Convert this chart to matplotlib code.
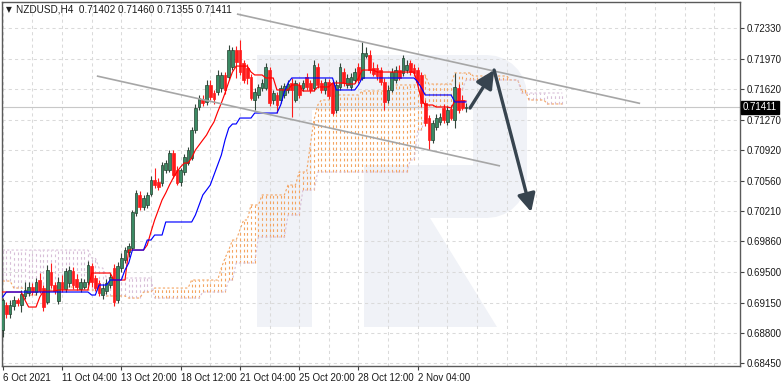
import matplotlib
matplotlib.use("Agg")
import matplotlib.pyplot as plt
import matplotlib.transforms as mtransforms
from matplotlib.patches import Polygon
import numpy as np

# ---------------- data ----------------
header_text = "NZDUSD,H4  0.71402 0.71460 0.71355 0.71411"
x_tick_bars = [0, 16, 32, 48, 64, 80, 96, 112]
x_tick_labels = ["6 Oct 2021", "11 Oct 04:00", "13 Oct 20:00", "18 Oct 12:00",
                 "21 Oct 04:00", "25 Oct 20:00", "28 Oct 12:00", "2 Nov 04:00"]
y_ticks = [0.68450, 0.68800, 0.69150, 0.69500, 0.69860, 0.70210,
           0.70560, 0.70920, 0.71270, 0.71620, 0.71970, 0.72330]
last_price = 0.71411

opens = [0.68832, 0.69121, 0.69018, 0.69110, 0.69179, 0.69121, 0.69226, 0.69260, 0.69330, 0.69272,
         0.69411, 0.69318, 0.69156, 0.69504, 0.69353, 0.69167, 0.69388, 0.69307, 0.69376, 0.69515,
         0.69423, 0.69307, 0.69330, 0.69388, 0.69573, 0.69434, 0.69376, 0.69237, 0.69283, 0.69353,
         0.69550, 0.69179, 0.69550, 0.69643, 0.69735, 0.69781, 0.70187, 0.70396, 0.70257, 0.70280,
         0.70407, 0.70569, 0.70546, 0.70534, 0.70685, 0.70685, 0.70882, 0.70685, 0.70546, 0.70662,
         0.70766, 0.70824, 0.71148, 0.71415, 0.71508, 0.71473, 0.71670, 0.71577, 0.71589, 0.71635,
         0.71786, 0.71762, 0.71878, 0.72075, 0.72075, 0.71924, 0.71866, 0.71762, 0.71496, 0.71554,
         0.71635, 0.71635, 0.71843, 0.71496, 0.71554, 0.71496, 0.71554, 0.71612, 0.71693, 0.71496,
         0.71670, 0.71635, 0.71762, 0.71693, 0.71635, 0.71878, 0.71693, 0.71612, 0.71705, 0.71693,
         0.71380, 0.71647, 0.71820, 0.71670, 0.71647, 0.71728, 0.71878, 0.71751, 0.72005, 0.72017,
         0.71866, 0.71866, 0.71843, 0.71705, 0.71496, 0.71612, 0.71728, 0.71843, 0.71809, 0.71843,
         0.71924, 0.71866, 0.71843, 0.71786, 0.71461, 0.71287, 0.71033, 0.71183, 0.71241, 0.71403,
         0.71241, 0.71392, 0.71264, 0.71635, 0.71496, 0.71402]
highs = [0.69202, 0.69156, 0.69179, 0.69226, 0.69202, 0.69295, 0.69388, 0.69388, 0.69376, 0.69434,
         0.69492, 0.69353, 0.69585, 0.69608, 0.69388, 0.69446, 0.69469, 0.69550, 0.69573, 0.69562,
         0.69481, 0.69434, 0.69423, 0.69631, 0.69608, 0.69469, 0.69411, 0.69365, 0.69423, 0.69492,
         0.69596, 0.69620, 0.69724, 0.69793, 0.69840, 0.70222, 0.70453, 0.70442, 0.70396, 0.70430,
         0.70615, 0.70708, 0.70592, 0.70778, 0.70801, 0.70917, 0.70917, 0.70731, 0.70708, 0.70870,
         0.70951, 0.71183, 0.71450, 0.71554, 0.71554, 0.71728, 0.71728, 0.71612, 0.71843, 0.71820,
         0.71820, 0.72133, 0.72110, 0.72121, 0.72191, 0.71959, 0.71913, 0.71797, 0.71635, 0.71681,
         0.71739, 0.71924, 0.71878, 0.71612, 0.71589, 0.71670, 0.71693, 0.71728, 0.71751, 0.71728,
         0.71705, 0.71728, 0.71809, 0.71728, 0.71959, 0.71924, 0.71728, 0.71751, 0.71739, 0.71728,
         0.71728, 0.71924, 0.71866, 0.71797, 0.71809, 0.71866, 0.71924, 0.72168, 0.72110, 0.72075,
         0.71936, 0.71913, 0.71878, 0.71751, 0.71670, 0.71866, 0.71889, 0.71901, 0.72017, 0.71959,
         0.71959, 0.71913, 0.71878, 0.71820, 0.71496, 0.71322, 0.71264, 0.71334, 0.71345, 0.71450,
         0.71426, 0.71438, 0.71809, 0.71681, 0.71554, 0.71460]
lows = [0.68751, 0.68971, 0.68971, 0.69064, 0.69110, 0.69041, 0.69191, 0.69226, 0.69237, 0.69237,
        0.69260, 0.69052, 0.69133, 0.69318, 0.69249, 0.69133, 0.69272, 0.69272, 0.69330, 0.69307,
        0.69295, 0.69272, 0.69307, 0.69353, 0.69330, 0.69283, 0.69226, 0.69191, 0.69249, 0.69318,
        0.69110, 0.69144, 0.69504, 0.69608, 0.69677, 0.69758, 0.70152, 0.70222, 0.70222, 0.70245,
        0.70384, 0.70477, 0.70453, 0.70500, 0.70650, 0.70662, 0.70592, 0.70511, 0.70500, 0.70627,
        0.70743, 0.70801, 0.71113, 0.71380, 0.71426, 0.71438, 0.71496, 0.71450, 0.71554, 0.71589,
        0.71566, 0.71728, 0.71843, 0.71751, 0.71786, 0.71693, 0.71681, 0.71496, 0.71380, 0.71519,
        0.71600, 0.71612, 0.71426, 0.71450, 0.71345, 0.71461, 0.71519, 0.71577, 0.71299, 0.71473,
        0.71519, 0.71600, 0.71612, 0.71577, 0.71600, 0.71635, 0.71577, 0.71566, 0.71508, 0.71322,
        0.71345, 0.71612, 0.71658, 0.71635, 0.71612, 0.71693, 0.71693, 0.71728, 0.71982, 0.71809,
        0.71774, 0.71728, 0.71670, 0.71380, 0.71461, 0.71589, 0.71693, 0.71728, 0.71774, 0.71809,
        0.71786, 0.71774, 0.71670, 0.71415, 0.71195, 0.70917, 0.70998, 0.71148, 0.71206, 0.71230,
        0.71206, 0.71264, 0.71171, 0.71345, 0.71380, 0.71355]
closes = [0.69179, 0.69018, 0.69121, 0.69179, 0.69144, 0.69249, 0.69295, 0.69330, 0.69272, 0.69388,
          0.69283, 0.69098, 0.69527, 0.69353, 0.69283, 0.69388, 0.69307, 0.69515, 0.69527, 0.69353,
          0.69330, 0.69388, 0.69388, 0.69585, 0.69388, 0.69318, 0.69260, 0.69318, 0.69376, 0.69446,
          0.69156, 0.69573, 0.69666, 0.69758, 0.69805, 0.70199, 0.70419, 0.70257, 0.70361, 0.70396,
          0.70569, 0.70511, 0.70488, 0.70743, 0.70766, 0.70882, 0.70627, 0.70534, 0.70685, 0.70836,
          0.70917, 0.71148, 0.71403, 0.71519, 0.71461, 0.71670, 0.71531, 0.71508, 0.71786, 0.71786,
          0.71612, 0.72075, 0.72075, 0.71936, 0.71820, 0.71728, 0.71751, 0.71519, 0.71589, 0.71647,
          0.71693, 0.71878, 0.71461, 0.71577, 0.71438, 0.71635, 0.71658, 0.71681, 0.71612, 0.71693,
          0.71554, 0.71693, 0.71647, 0.71612, 0.71901, 0.71670, 0.71612, 0.71705, 0.71542, 0.71345,
          0.71670, 0.71878, 0.71693, 0.71751, 0.71762, 0.71820, 0.71728, 0.72040, 0.72040, 0.71843,
          0.71797, 0.71774, 0.71705, 0.71473, 0.71612, 0.71820, 0.71843, 0.71751, 0.71982, 0.71901,
          0.71820, 0.71809, 0.71705, 0.71461, 0.71230, 0.71033, 0.71230, 0.71287, 0.71299, 0.71264,
          0.71380, 0.71287, 0.71647, 0.71380, 0.71403, 0.71411]

tenkan = ([0.69272] * 6 + [0.69179] + [0.69098] * 3 + [0.69214] + [0.69283] * 4 + [0.69295] * 9 +
          [0.69492] * 6 + [0.69411] * 4 + [0.69758] * 5 +
          [0.69816, 0.69967, 0.70106, 0.70222, 0.70338, 0.70419, 0.70511, 0.70592, 0.70662, 0.70720,
           0.70766, 0.70766, 0.70824, 0.70917, 0.70975, 0.71033, 0.71090, 0.71171, 0.71241, 0.71357,
           0.71461, 0.71577, 0.71705, 0.71820] +
          [0.71889] * 4 + [0.71820] + [0.71786] * 3 + [0.71751] * 3 + [0.71612] * 4 + [0.71670] * 3 +
          [0.71600] * 4 + [0.71647] * 4 + [0.71693] * 4 + [0.71681] * 3 + [0.71751] + [0.71843] * 4 +
          [0.71820] * 11 + [0.71670, 0.71496] + [0.71438] * 3 + [0.71415] * 4 + [0.71403] + [0.71484] * 4)

kijun = ([0.69214] + [0.69272] * 23 + [0.69237] * 2 + [0.69353] * 3 + [0.69411] * 4 + [0.69527, 0.69608] +
         [0.69758] * 4 + [0.69874] * 2 + [0.69932] * 3 + [0.70083] * 8 +
         [0.70164, 0.70280, 0.70396, 0.70453, 0.70511, 0.70627, 0.70743, 0.70859, 0.71033, 0.71171] +
         [0.71218] * 2 + [0.71287] * 4 + [0.71345] * 7 + [0.71438, 0.71589, 0.71693] + [0.71751] * 12 +
         [0.71612] * 6 + [0.71670] + [0.71751] * 15 + [0.71705, 0.71635] + [0.71554] * 8 + [0.71473] * 4)

senkou_a = ([0.69399] * 3 + [0.69318] * 4 + [0.69237] * 3 + [0.69295] * 5 + [0.69330] * 8 + [0.69295] * 5 +
            [0.69226] * 6 + [0.69202] * 4 + [0.69272] * 3 + [0.69318] * 10 + [0.69411] * 8 +
            [0.69550, 0.69666, 0.69758] + [0.69874] * 2 + [0.69990] + [0.70106] * 2 + [0.70280] * 3 +
            [0.70396] * 7 + [0.70511] * 3 + [0.70662] * 3 + [0.70975, 0.71264, 0.71438] + [0.71496] * 4 +
            [0.71554] * 7 + [0.71600] * 8 + [0.71670] * 8 + [0.71786] * 2 + [0.71681] * 7 + [0.71809] * 5 +
            [0.71774] * 10 + [0.71728] * 3 + [0.71612] * 2 + [0.71496] * 5 + [0.71450] * 5)

senkou_b = ([0.69758] * 24 + [0.69666] * 2 + [0.69550] * 2 + [0.69434] * 13 + [0.69202] * 13 + [0.69272] * 7 +
            [0.69411] * 2 + [0.69608] * 6 + [0.69909] * 8 + [0.70164] * 4 + [0.70453] * 4 + [0.70662] * 25 +
            [0.70801] * 2 + [0.71148] * 2 + [0.71299] + [0.71415] * 7 + [0.71496] + [0.71612] * 2 +
            [0.71728] * 15 + [0.71577] * 12)

upper_channel_bars = [63.2, 172.0]
upper_channel_prices = [0.72492, 0.71456]
lower_channel_bars = [25.4, 134.2]
lower_channel_prices = [0.71774, 0.70732]
forecast_bars = [126.1, 132.6, 142.6]
forecast_prices = [0.71403, 0.71843, 0.70199]

# ---------------- styling ----------------
BULL_BODY = "#3b8a64"
BULL_EDGE = "#24402f"
BULL_WICK = "#33463b"
BEAR = "#ff1a1a"
SPAN_A_COL = "#f4a460"
SPAN_B_COL = "#d8bfd8"
GRID_COL = "#dadada"
WM_COL = "#f0f2f7"

FONT = ["Liberation Sans Narrow", "Liberation Sans", "DejaVu Sans"]
plt.rcParams["font.family"] = FONT

W, H = 782, 385
fig = plt.figure(figsize=(W / 100, H / 100), dpi=100)
fig.patch.set_facecolor("white")
ax_l, ax_r, ax_t, ax_b = 2, 740, 2, 366
ax = fig.add_axes([ax_l / W, 1 - ax_b / H, (ax_r - ax_l) / W, (ax_b - ax_t) / H])
ax.set_facecolor("white")
ax.set_xlim(-0.19, 198.95)
ax.set_ylim(0.68415, 0.72631)


def px(x, y):
    """pixel position of the reference image -> axes fraction (decorations only)"""
    return ((x - ax_l) / (ax_r - ax_l), (ax_b - y) / (ax_b - ax_t))


# ---- watermark logo (decoration) ----
def wm_poly(points, color=WM_COL, z=0.1):
    ax.add_patch(Polygon([px(*p) for p in points], closed=True, transform=ax.transAxes,
                         facecolor=color, edgecolor="none", zorder=z))


wm_poly([(257, 55), (312, 55), (312, 327), (257, 327)])
r = 40
arc = [(487 + r * np.cos(t), 95 + r * np.sin(t)) for t in np.linspace(-np.pi / 2, 0, 8)]
arc2 = [(487 + r * np.cos(t), 178 + r * np.sin(t)) for t in np.linspace(0, np.pi / 2, 8)]
wm_poly([(312, 55)] + arc + arc2 + [(364, 218), (364, 165), (473, 165), (473, 110), (312, 110)])
wm_poly([(364, 218), (430, 218), (497, 327), (364, 327)])

# ---- grid ----
ax.set_xticks(x_tick_bars)
ax.set_xticklabels(x_tick_labels)
ax.set_xticks(list(range(0, 199, 8)), minor=True)
ax.set_yticks(y_ticks)
ax.set_yticklabels([f"{v:.5f}" for v in y_ticks])
ax.grid(True, which="both", color=GRID_COL, linestyle=(0, (3, 3)), linewidth=0.75, zorder=0.5)
ax.set_axisbelow(True)

# ---- Ichimoku cloud ----
a = np.array(senkou_a)
b = np.array(senkou_b)
ci = np.arange(len(a))
bull = a >= b
ax.vlines(ci[bull], b[bull], a[bull], colors=SPAN_A_COL, linestyles=(0, (2.4, 2.6)),
          linewidth=0.8, zorder=1)
ax.vlines(ci[~bull], a[~bull], b[~bull], colors=SPAN_B_COL, linestyles=(0, (2.4, 2.6)),
          linewidth=0.8, zorder=1)
ax.plot(ci, a, color=SPAN_A_COL, linestyle=(0, (2, 2)), linewidth=0.8, zorder=1.2)
ax.plot(ci, b, color=SPAN_B_COL, linestyle=(0, (2, 2)), linewidth=0.8, zorder=1.2)

# ---- last price line ----
ax.axhline(last_price, color="#c8c8c8", linewidth=0.8, zorder=1.5)

# ---- candles ----
o = np.array(opens)
h = np.array(highs)
l = np.array(lows)
c = np.array(closes)
idx = np.arange(len(o))
up = c >= o
low_b = np.minimum(o, c)
hgt = np.maximum(np.abs(c - o), 0.00003)
ax.vlines(idx[up], l[up], h[up], colors=BULL_WICK, linewidth=0.8, zorder=4)
ax.vlines(idx[~up], l[~up], h[~up], colors=BEAR, linewidth=0.8, zorder=4)
ax.bar(idx[up], hgt[up], bottom=low_b[up], width=0.72, color=BULL_BODY,
       edgecolor=BULL_EDGE, linewidth=0.5, zorder=5)
ax.bar(idx[~up], hgt[~up], bottom=low_b[~up], width=0.72, color=BEAR,
       edgecolor=BEAR, linewidth=0.5, zorder=5)

# ---- Tenkan / Kijun ----
ax.plot(np.arange(len(tenkan)), tenkan, color="#ff0000", linewidth=0.85, zorder=6)
ax.plot(np.arange(len(kijun)), kijun, color="#0000ff", linewidth=0.85, zorder=6)

# ---- channel lines ----
ax.plot(upper_channel_bars, upper_channel_prices, color="#a6a6a6", linewidth=1.2, zorder=7,
        solid_capstyle="butt")
ax.plot(lower_channel_bars, lower_channel_prices, color="#a6a6a6", linewidth=1.2, zorder=7,
        solid_capstyle="butt")

# ---- forecast arrows ----
ARROW_COL = "#37444f"
for k in range(len(forecast_bars) - 1):
    ax.annotate("", xy=(forecast_bars[k + 1], forecast_prices[k + 1]),
                xytext=(forecast_bars[k], forecast_prices[k]),
                arrowprops=dict(arrowstyle="-|>,head_length=0.9,head_width=0.45",
                                color=ARROW_COL, lw=2.4, shrinkA=0, shrinkB=0,
                                mutation_scale=12),
                zorder=8)

# ---- axes styling ----
for side in ["left", "right", "bottom", "top"]:
    ax.spines[side].set_color("#5a5a5a")
    ax.spines[side].set_linewidth(1.0)
ax.yaxis.tick_right()
ax.tick_params(axis="y", which="major", direction="out", length=3, width=0.8, colors="#404040",
               labelsize=7, pad=2, labelcolor="#1a1a1a")
ax.tick_params(axis="x", which="major", direction="out", length=3, width=0.8, colors="#404040",
               labelsize=7, pad=2, labelcolor="#1a1a1a")
ax.tick_params(axis="x", which="minor", length=0)
for lab in ax.get_xticklabels():
    lab.set_horizontalalignment("left")

# last price tag
trans = mtransforms.blended_transform_factory(ax.transAxes, ax.transData)
ax.text(1.0 + 3 / 738, last_price, f"{last_price:.5f}", transform=trans, ha="left", va="center",
        fontsize=7, color="white", zorder=10, clip_on=False,
        bbox=dict(boxstyle="square,pad=0.18", facecolor="black", edgecolor="black"))

# header
ax.text(0.005, 0.992, "\u25BC", transform=ax.transAxes, ha="left", va="top", fontsize=5.5,
        color="#202020", family=["DejaVu Sans"], zorder=10)
ax.text(0.019, 0.994, header_text, transform=ax.transAxes, ha="left", va="top", fontsize=7.2,
        color="#1a1a1a", zorder=10)

fig.savefig("out.png", dpi=100, facecolor="white")
